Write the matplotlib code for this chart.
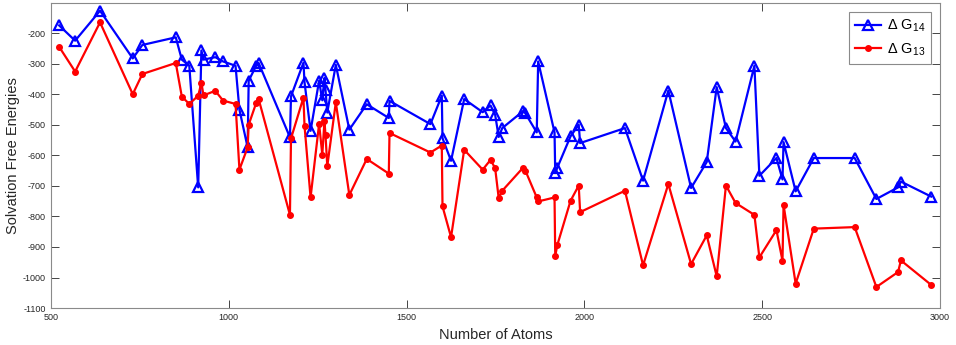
import matplotlib
matplotlib.use('Agg')
import matplotlib.pyplot as plt

# number of atoms of each molecule
atoms = [523, 568, 638, 730, 757, 851, 868, 889, 914, 923,
         929, 962, 984, 1019, 1030, 1053, 1056, 1077, 1084, 1172,
         1175, 1210, 1213, 1230, 1254, 1263, 1269, 1272, 1277, 1301,
         1339, 1388, 1450, 1452, 1567, 1599, 1601, 1625, 1662, 1714,
         1736, 1749, 1759, 1769, 1828, 1834, 1866, 1870, 1916, 1918,
         1924, 1961, 1984, 1988, 2114, 2165, 2236, 2300, 2344, 2372,
         2398, 2425, 2478, 2492, 2540, 2557, 2560, 2594, 2645, 2760,
         2821, 2882, 2890, 2975]

# delta G14
dg14 = [-175, -225, -127, -283, -239, -214, -287, -307, -705, -257,
        -287, -279, -293, -307, -451, -574, -356, -307, -298, -541,
        -407, -297, -361, -520, -356, -420, -347, -386, -460, -304,
        -516, -433, -478, -422, -498, -405, -544, -618, -416, -459,
        -437, -467, -540, -511, -455, -463, -525, -293, -525, -658,
        -640, -538, -500, -560, -511, -683, -388, -707, -622, -377,
        -511, -555, -307, -667, -609, -679, -557, -718, -609, -609,
        -743, -705, -686, -735]

# delta G13
dg13 = [-245, -326, -165, -400, -334, -298, -408, -432, -405, -363,
        -404, -389, -421, -432, -647, -574, -500, -429, -416, -795,
        -545, -411, -503, -738, -497, -598, -489, -533, -636, -427,
        -730, -612, -660, -527, -591, -568, -767, -868, -582, -647,
        -615, -642, -740, -716, -640, -650, -738, -751, -738, -929,
        -893, -749, -699, -786, -716, -960, -694, -956, -862, -996,
        -699, -756, -795, -934, -845, -945, -762, -1020, -840, -835,
        -1031, -982, -944, -1024]

xticks = [500, 1000, 1500, 2000, 2500, 3000]
yticks = list(range(-1100, -100, 100))

plt.rcParams['font.family'] = ['Liberation Sans', 'DejaVu Sans']
plt.rcParams['mathtext.fontset'] = 'custom'
plt.rcParams['mathtext.rm'] = 'Liberation Sans'
plt.rcParams['mathtext.it'] = 'Liberation Sans:italic'
plt.rcParams['axes.unicode_minus'] = False

grey = '#262626'

fig = plt.figure(figsize=(9.56, 3.45), dpi=100)
ax = fig.add_axes([0.0533, 0.107, 0.93, 0.884])

ax.plot(atoms, dg14, color='blue', lw=1.6, marker='^', ms=7,
        mfc='none', mew=1.6, label=r'$\Delta$ G$_{14}$')
ax.plot(atoms, dg13, color='red', lw=1.6, marker='o', ms=4,
        label=r'$\Delta$ G$_{13}$')

ax.set_xlim(500, 3000)
ax.set_ylim(-1100, -102)
ax.set_xticks(xticks)
ax.set_yticks(yticks)
ax.tick_params(direction='in', length=6, width=0.6, colors=grey,
               labelsize=6.5, top=True, right=True)
for s in ax.spines.values():
    s.set_color('#8a8a8a')
    s.set_linewidth(0.8)

ax.set_xlabel('Number of Atoms', fontsize=10.5, color=grey, labelpad=4)
ax.set_ylabel('Solvation Free Energies', fontsize=10.5, color=grey, labelpad=2)

leg = ax.legend(loc='upper right', fontsize=10.5, fancybox=False,
                framealpha=1, edgecolor='#8a8a8a', handlelength=1.8,
                borderaxespad=0.6, labelspacing=0.5, borderpad=0.4,
                handletextpad=0.4)
leg.get_frame().set_linewidth(0.8)

fig.savefig('out.png', dpi=100)
